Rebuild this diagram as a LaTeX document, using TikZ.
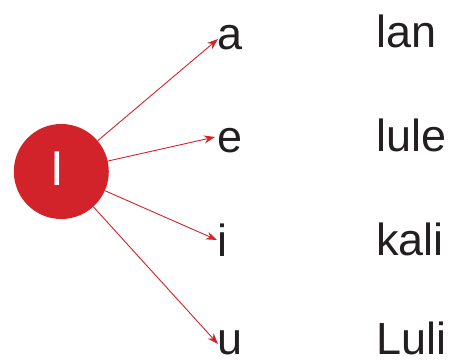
\documentclass[tikz,border=0pt]{standalone}
\usepackage{fontspec}
\setmainfont{Liberation Sans}
\usetikzlibrary{arrows.meta}
\definecolor{myred}{HTML}{D2232A}
\definecolor{ink}{HTML}{231F20}
\begin{document}
\begin{tikzpicture}[x=1pt,y=-1pt,
  letter/.style={anchor=base west,inner sep=0pt,text=ink,font=\fontsize{45}{50}\selectfont},
  link/.style={draw=myred,line width=0.9pt,-{Stealth[length=11pt,width=8pt]}}]
\useasboundingbox (0,0) rectangle (451,364);
\node[circle,fill=myred,minimum size=95pt,inner sep=0pt] (c) at (61.3,171.5) {};
\node[inner sep=0pt,text=white,font=\fontsize{49}{54}\selectfont] (I) at (57.5,168.3) {I};
\node[letter] (a) at (217,49) {a};
\node[letter] (e) at (217,152.5) {e};
\node[letter] (i) at (217,256.5) {i};
\node[letter] (u) at (217,354) {u};
\node[letter] (w1) at (376,47) {lan};
\node[letter] (w2) at (376,151) {lule};
\node[letter] (w3) at (376,255) {kali};
\node[letter] (w4) at (376,354) {Luli};
\draw[link] (c) -- ([shift={(1,-10)}]a.base west);
\draw[link] (c) -- ([shift={(-2,-15.5)}]e.base west);
\draw[link] (c) -- ([shift={(0,-16.5)}]i.base west);
\draw[link] (c) -- ([shift={(1,-10)}]u.base west);
\end{tikzpicture}
\end{document}
